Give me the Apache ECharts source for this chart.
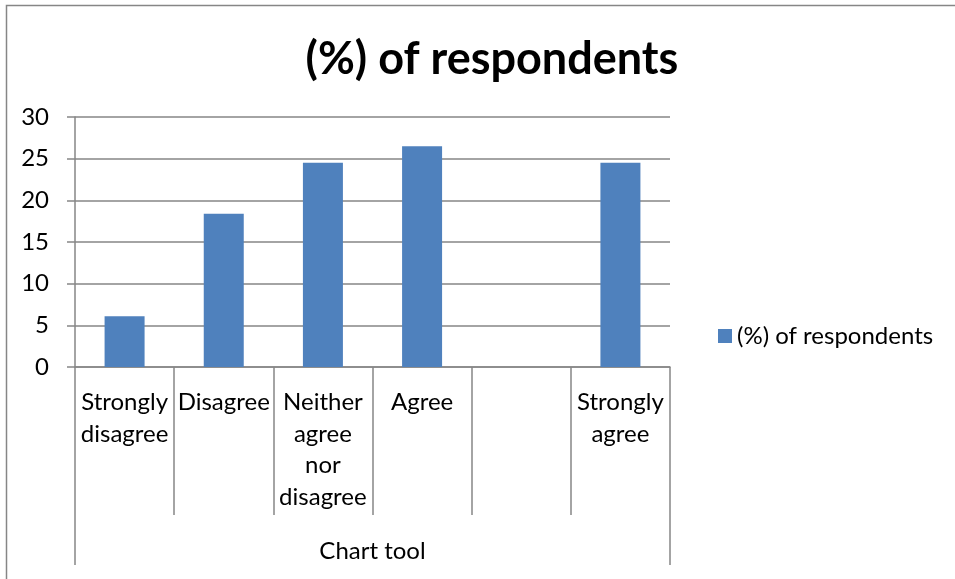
<!DOCTYPE html>
<html>
<head>
<meta charset="utf-8">
<script src="https://cdn.jsdelivr.net/npm/echarts@6/dist/echarts.min.js"></script>
<style>
html,body{margin:0;padding:0;background:#fff;}
#chart{width:955px;height:579px;}
</style>
</head>
<body>
<div id="chart"></div>
<script>
const titleText = '(%) of respondents';
const seriesName = '(%) of respondents';
const groupLabel = 'Chart tool';
const categories = ['Strongly disagree', 'Disagree', 'Neither agree nor disagree', 'Agree', '', 'Strongly agree'];
const tickLabels = ['Strongly\ndisagree', 'Disagree', 'Neither\nagree\nnor\ndisagree', 'Agree', '', 'Strongly\nagree'];
const values = [6.1, 18.4, 24.5, 26.5, null, 24.5];
const yTicks = [0, 5, 10, 15, 20, 25, 30];

const FONT = 'Lato, "Open Sans", sans-serif';
const GRAY = '#868686';

const chart = echarts.init(document.getElementById('chart'), null, {renderer: 'canvas'});
chart.setOption({
  animation: false,
  backgroundColor: '#ffffff',
  graphic: [{
    type: 'rect',
    shape: {x: 6.5, y: 5.5, width: 1000, height: 1000},
    style: {fill: 'none', stroke: GRAY, lineWidth: 1.5},
    z: 0
  }],
  title: {
    text: titleText,
    left: 487,
    textAlign: 'center',
    top: 32,
    textStyle: {fontFamily: FONT, fontWeight: 'bold', fontSize: 45, color: '#000'}
  },
  legend: {
    data: [seriesName],
    left: 713,
    top: 319,
    icon: 'rect',
    itemWidth: 14,
    itemHeight: 14,
    textStyle: {fontFamily: FONT, fontSize: 24, color: '#000'}
  },
  grid: {left: 75, right: 285, top: 117, bottom: 212, containLabel: false},
  xAxis: [{
    type: 'category',
    data: categories,
    position: 'bottom',
    axisLine: {show: true, lineStyle: {color: GRAY, width: 1.5}},
    axisTick: {show: true, length: 148, alignWithLabel: false, interval: 0, lineStyle: {color: GRAY, width: 1.5}},
    axisLabel: {
      interval: 0,
      margin: 20,
      fontFamily: FONT,
      fontSize: 24,
      lineHeight: 31.5,
      color: '#000',
      formatter: function (v, i) { return tickLabels[i]; }
    },
    splitLine: {show: false}
  }, {
    type: 'category',
    data: [groupLabel],
    position: 'bottom',
    axisLine: {show: false},
    axisTick: {show: true, length: 198, alignWithLabel: false, lineStyle: {color: GRAY, width: 1.5}},
    axisLabel: {margin: 168, fontFamily: FONT, fontSize: 24, lineHeight: 32, color: '#000'},
    splitLine: {show: false}
  }],
  yAxis: {
    type: 'value',
    min: yTicks[0],
    max: yTicks[yTicks.length - 1],
    interval: 5,
    axisLine: {show: true, lineStyle: {color: GRAY, width: 1.5}},
    axisTick: {show: true, length: 8, lineStyle: {color: GRAY, width: 1.5}},
    axisLabel: {margin: 26, fontFamily: FONT, fontSize: 24, color: '#000'},
    splitLine: {show: true, lineStyle: {color: GRAY, width: 1.5}}
  },
  series: [{
    name: seriesName,
    type: 'bar',
    data: values,
    barWidth: 40,
    itemStyle: {color: '#4F81BD'}
  }]
});
</script>
</body>
</html>
